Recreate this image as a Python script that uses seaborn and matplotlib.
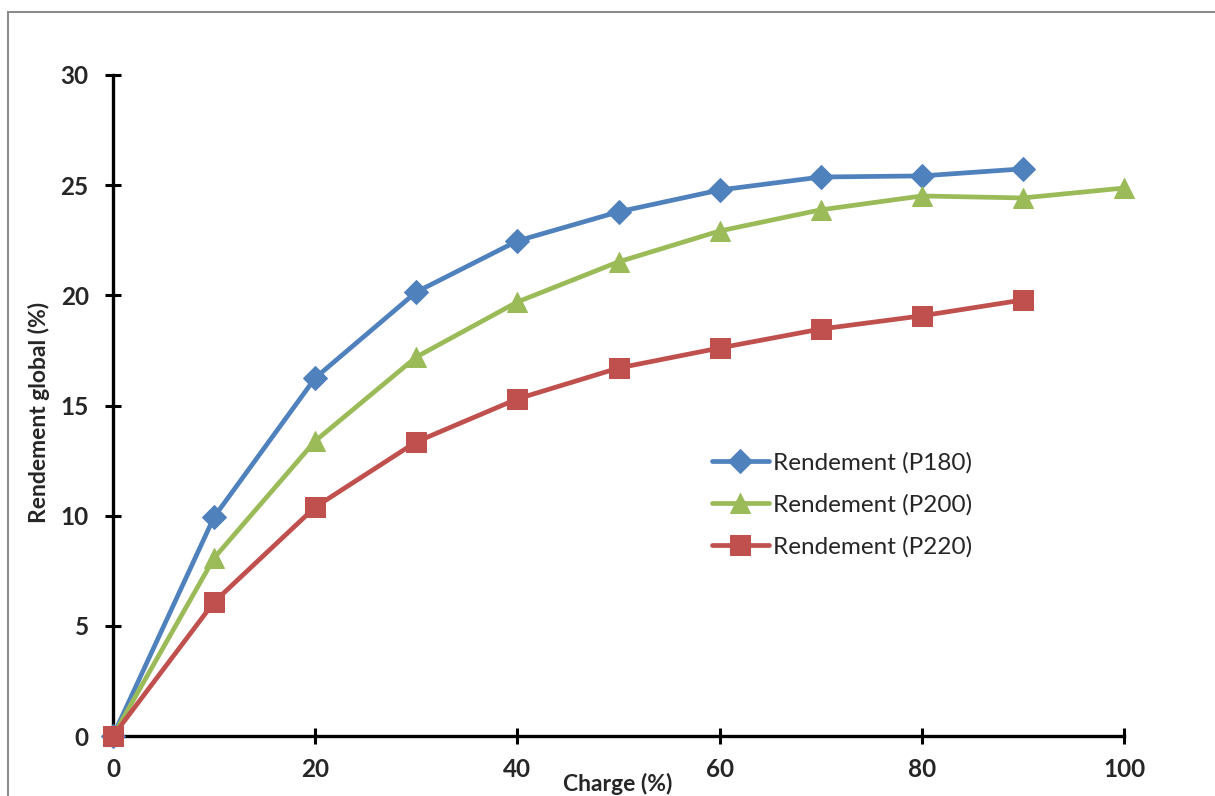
import matplotlib
matplotlib.use("Agg")
import matplotlib.pyplot as plt
import seaborn as sns
import pandas as pd
from matplotlib.patches import Rectangle

charge_180 = [0, 10, 20, 30, 40, 50, 60, 70, 80, 90]
rend_180 = [0, 9.94, 16.25, 20.15, 22.47, 23.79, 24.78, 25.37, 25.42, 25.74]
charge_200 = [0, 10, 20, 30, 40, 50, 60, 70, 80, 90, 100]
rend_200 = [0, 8.08, 13.39, 17.2, 19.7, 21.52, 22.92, 23.88, 24.51, 24.42, 24.87]
charge_220 = [0, 10, 20, 30, 40, 50, 60, 70, 80, 90]
rend_220 = [0, 6.08, 10.39, 13.35, 15.3, 16.7, 17.61, 18.47, 19.07, 19.79]
labels = ["Rendement (P180)", "Rendement (P200)", "Rendement (P220)"]
x_ticks = [0, 20, 40, 60, 80, 100]
y_ticks = [0, 5, 10, 15, 20, 25, 30]

sns.set_theme(style="white")
plt.rcParams['font.family'] = ['Lato', 'DejaVu Sans']

fig = plt.figure(figsize=(12.15, 7.96), dpi=100)
ax = fig.add_axes([113/1215, 1-736/796, (1124-113)/1215, (736-75)/796])

# chart area frame
fig.patches.append(Rectangle((8/1215, -0.2), 1.2, 1.2 - 12/796, transform=fig.transFigure,
                             fill=False, edgecolor="#8c8c8c", linewidth=1.5, clip_on=False))

series = [
    (charge_180, rend_180, "#4F81BD", "D", 12.5),
    (charge_200, rend_200, "#9BBB59", "^", 15),
    (charge_220, rend_220, "#C0504D", "s", 14),
]
for (xs, ys, col, mk, ms), lab in zip(series, labels):
    df = pd.DataFrame({"x": xs, "y": ys})
    sns.lineplot(data=df, x="x", y="y", ax=ax, color=col, linewidth=3.4, marker=mk,
                 markersize=ms, markeredgecolor=col, label=lab, clip_on=False, zorder=3)

ax.set_xlim(0, 100)
ax.set_ylim(0, 30)
ax.set_xticks(x_ticks)
ax.set_yticks(y_ticks)
for s in ["top", "right"]:
    ax.spines[s].set_visible(False)
for s in ["left", "bottom"]:
    ax.spines[s].set_color("black")
    ax.spines[s].set_linewidth(2.4)
ax.tick_params(axis="both", direction="inout", length=11, width=2.2, color="black",
               labelsize=17.5, bottom=True, left=True)
ax.tick_params(axis="y", pad=12)
ax.tick_params(axis="x", pad=10)
for t in ax.get_xticklabels() + ax.get_yticklabels():
    t.set_fontweight("bold")
ax.set_xlabel("Charge (%)", fontsize=16.5, fontweight="bold")
ax.set_ylabel("Rendement global (%)", fontsize=16.5, fontweight="bold")
ax.xaxis.set_label_coords((618-113)/1011, -(773-736)/661)
ax.yaxis.set_label_coords(-(113-50)/1011, (736-412)/661)

leg = ax.legend(loc="upper left", bbox_to_anchor=(690/1215, 1-430/796), bbox_transform=fig.transFigure,
                frameon=False, fontsize=17.5, handlelength=2.35, handletextpad=0.15, labelspacing=0.85)

fig.savefig("out.png", dpi=100)
